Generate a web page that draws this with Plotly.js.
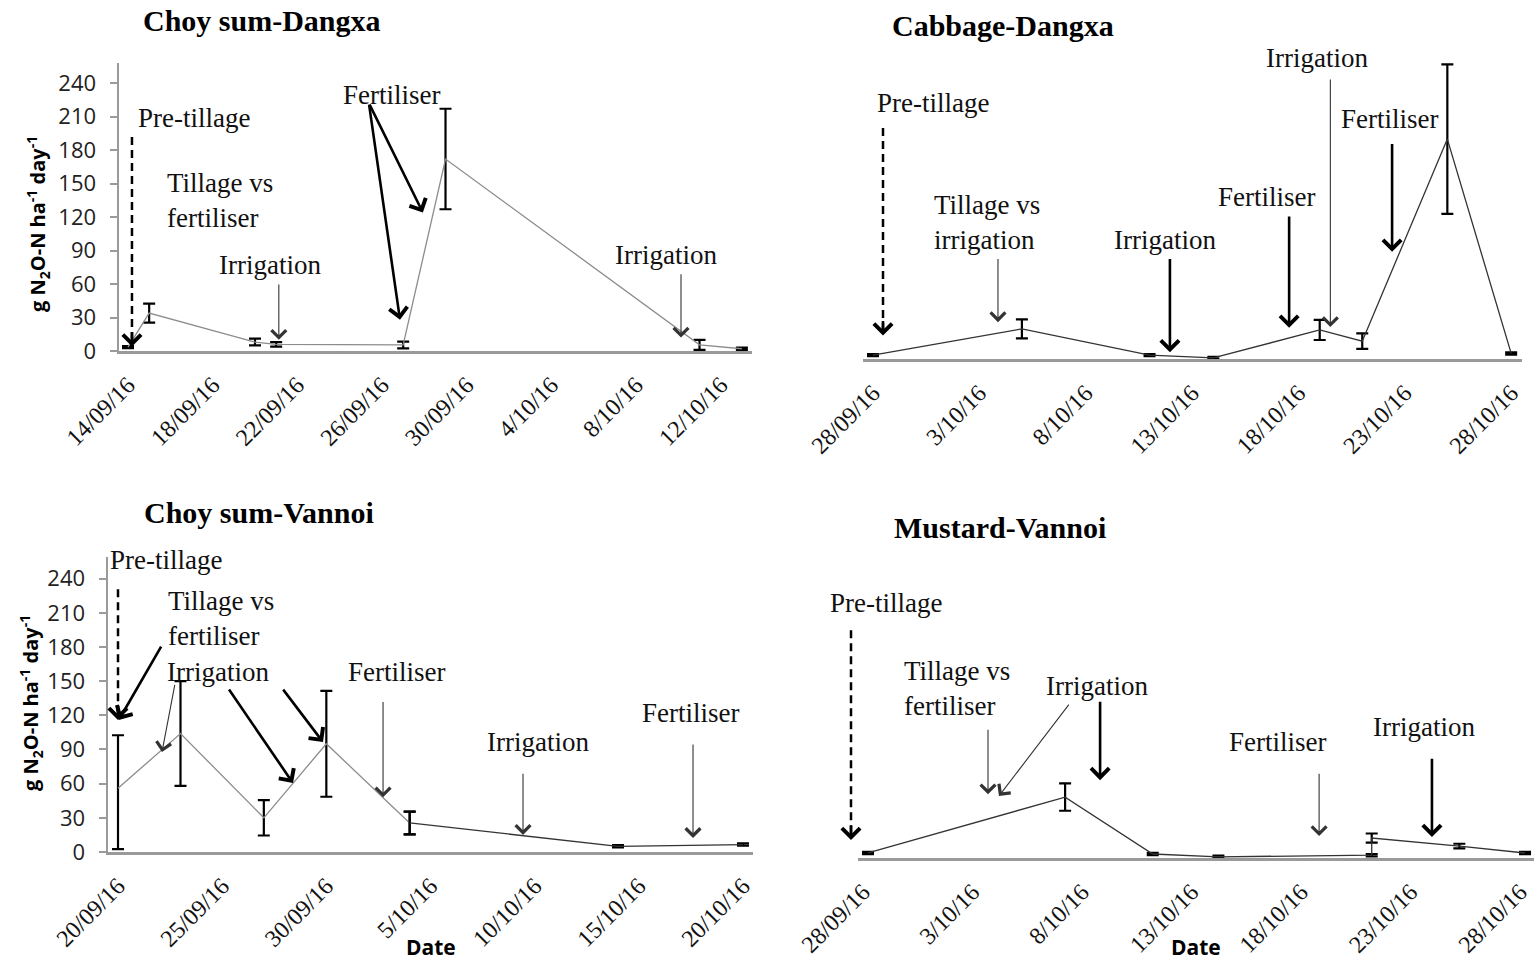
<!DOCTYPE html>
<html><head><meta charset="utf-8">
<script src="https://cdn.plot.ly/plotly-3.0.1.min.js"></script>
<style>html,body{margin:0;padding:0;background:#fff}#chart{width:1534px;height:961px}</style>
</head><body><div id="chart"></div>
<script>
// ---------- DATA ----------
// Choy sum - Dangxa
const csdDates = ['2016-09-14','2016-09-15','2016-09-20','2016-09-21','2016-09-27','2016-09-29','2016-10-11','2016-10-13'];
const csdFlux  = [3.5, 34, 8, 6, 5.4, 172, 5.5, 2];
const csdErr   = [1, 8.5, 3, 2, 3, 45, 4.5, 1];
const csdTickVals = ['2016-09-14','2016-09-18','2016-09-22','2016-09-26','2016-09-30','2016-10-04','2016-10-08','2016-10-12'];
const csdTickText = ['14/09/16','18/09/16','22/09/16','26/09/16','30/09/16','4/10/16','8/10/16','12/10/16'];

// Cabbage - Dangxa
const cbdDates = ['2016-09-28','2016-10-05','2016-10-11','2016-10-14','2016-10-19','2016-10-21','2016-10-25','2016-10-28'];
const cbdFlux  = [3.5, 27, 3.5, 1, 26, 16, 197, 5];
const cbdErr   = [1, 8.5, 1, 1, 9, 7, 67, 1];
const cbdTickVals = ['2016-09-28','2016-10-03','2016-10-08','2016-10-13','2016-10-18','2016-10-23','2016-10-28'];
const cbdTickText = ['28/09/16','3/10/16','8/10/16','13/10/16','18/10/16','23/10/16','28/10/16'];

// Choy sum - Vannoi
const csvDates = ['2016-09-20','2016-09-23','2016-09-27','2016-09-30','2016-10-04','2016-10-14','2016-10-20'];
const csvFlux  = [56, 104, 30, 95, 25.5, 5, 6.5];
const csvErrPlus  = [46.5, 46, 15.5, 46.5, 10, 1, 1];
const csvErrMinus = [53.5, 46, 15.5, 46.5, 10, 1, 1];
const csvTickVals = ['2016-09-20','2016-09-25','2016-09-30','2016-10-05','2016-10-10','2016-10-15','2016-10-20'];
const csvTickText = ['20/09/16','25/09/16','30/09/16','5/10/16','10/10/16','15/10/16','20/10/16'];

// Mustard - Vannoi
const mvDates = ['2016-09-28','2016-10-07','2016-10-11','2016-10-14','2016-10-21','2016-10-21','2016-10-25','2016-10-28'];
const mvFlux  = [4.4, 53.5, 3.5, 1, 2.5, 17.5, 10.5, 4.4];
const mvErr   = [1, 12, 1, 1, 1, 4, 2, 1];
const mvTickVals = cbdTickVals;
const mvTickText = cbdTickText;

const yTickVals = [0,30,60,90,120,150,180,210,240];

// ---------- STYLE ----------
const SERIF = 'Liberation Serif, Times New Roman, serif';
const SANS = 'Open Sans, Liberation Sans, sans-serif';
const GRAY_LINE = '#8c8c8c';
const DARK_LINE = '#333333';
const AXIS_COL = '#9a9a9a';

function errBar(plus, minus) {
  return {type:'data', symmetric: !minus, array: plus, arrayminus: minus, color:'#000', thickness:2.2, width:6, visible:true};
}
function series(x, y, xa, ya, color, plus, minus) {
  return {type:'scatter', mode:'lines', x:x, y:y, xaxis:xa, yaxis:ya,
          line:{color:color, width:1.3}, error_y: errBar(plus, minus),
          hoverinfo:'x+y', showlegend:false, cliponaxis:false};
}

const split = 4; // Choy sum-Vannoi line changes colour after the 5th sampling
const traces = [
  series(csdDates, csdFlux, 'x', 'y', GRAY_LINE, csdErr),
  series(cbdDates, cbdFlux, 'x2', 'y2', DARK_LINE, cbdErr),
  series(csvDates.slice(0, split+1), csvFlux.slice(0, split+1), 'x3', 'y3', GRAY_LINE, csvErrPlus.slice(0, split+1), csvErrMinus.slice(0, split+1)),
  series(csvDates.slice(split), csvFlux.slice(split), 'x3', 'y3', DARK_LINE, csvErrPlus.slice(split), csvErrMinus.slice(split)),
  series(mvDates, mvFlux, 'x4', 'y4', DARK_LINE, mvErr)
];

function xAxis(domain, range, tickvals, ticktext, anchor, shift) {
  return {type:'date', domain:domain, range:range, anchor:anchor,
          tickvals:tickvals, ticktext:ticktext, tickangle:-45,
          tickfont:{family:SERIF, size:24, color:'#111'},
          showline:true, linecolor:AXIS_COL, linewidth:2.5, ticklabeloverflow:'allow',
          ticklabelshift: shift || 0,
          showgrid:false, zeroline:false, ticks:'', ticklabelstandoff:8, fixedrange:true};
}
function yAxis(domain, range, anchor, visible) {
  const a = {domain:domain, range:range, anchor:anchor, showgrid:false, zeroline:false, fixedrange:true};
  if (visible) {
    Object.assign(a, {showline:true, linecolor:AXIS_COL, linewidth:2.5, ticks:'outside', ticklen:7,
      tickwidth:2, tickcolor:AXIS_COL, tickvals:yTickVals, ticktext:yTickVals.map(String),
      tickfont:{family:SANS, size:22, color:'#222'}, ticklabelstandoff:9});
  } else {
    Object.assign(a, {visible:false});
  }
  return a;
}

// ---------- ANNOTATIONS (event arrows in data coordinates) ----------
const ann = [];
const shapes = [];
function label(xa, ya, x, y, text) {
  ann.push({xref:xa, yref:ya, x:x, y:y, text:text, showarrow:false, align:'left',
            font:{family:SERIF, size:27, color:'#111'}});
}
function arrow(xa, ya, tailX, tailY, headX, headY, thick) {
  ann.push({xref:xa, yref:ya, axref:xa, ayref:ya, x:headX, y:headY, ax:tailX, ay:tailY,
            text:'', showarrow:true, arrowhead:4, standoff:0, startstandoff:0,
            arrowsize: thick ? 1.35 : 2.6, arrowwidth: thick ? 2.6 : 1.1,
            arrowcolor: thick ? '#000' : '#333'});
}
function dashed(xa, ya, x, tailY, headY, xIsPaper) {
  shapes.push({type:'line', xref: xIsPaper ? 'paper' : xa, yref:ya, x0:x, x1:x, y0:tailY, y1:headY + 3,
               line:{color:'#000', width:2.5, dash:'8px,5px'}, layer:'above'});
  ann.push({xref: xIsPaper ? 'paper' : xa, yref:ya, x:x, y:headY, ax:0, ay:-16, text:'', showarrow:true,
            arrowhead:4, arrowsize:1.35, arrowwidth:2.6, arrowcolor:'#000', standoff:0});
}

// Panel 1: Choy sum-Dangxa
label('x','y','2016-09-17 03:00',208.6,'Pre-tillage');
dashed('x','y','2016-09-14 04:30',191.6,4);
label('x','y','2016-09-18 08:24',135,'Tillage vs<br>fertiliser');
label('x','y','2016-09-20 17:00',77,'Irrigation');
arrow('x','y','2016-09-21 03:00',61,'2016-09-21 03:00',10,false);
label('x','y','2016-09-26 11:15',229,'Fertiliser');
arrow('x','y','2016-09-25 09:07',222,'2016-09-26 20:24',28,true);
arrow('x','y','2016-09-25 09:07',222,'2016-09-27 22:19',124,true);
label('x','y','2016-10-09 09:50',86,'Irrigation');
arrow('x','y','2016-10-10 03:00',70,'2016-10-10 03:00',12,false);

// Panel 2: Cabbage-Dangxa
label('x2','y2','2016-09-30 19:40',229,'Pre-tillage');
dashed('x2','y2','2016-09-28 11:17',207,21);
label('x2','y2','2016-10-03 08:40',122,'Tillage vs<br>irrigation');
arrow('x2','y2','2016-10-03 21:00',91,'2016-10-03 21:00',33,false);
label('x2','y2','2016-10-11 17:30',107,'Irrigation');
arrow('x2','y2','2016-10-11 23:00',91,'2016-10-11 23:00',6,true);
label('x2','y2','2016-10-16 12:30',145,'Fertiliser');
arrow('x2','y2','2016-10-17 13:30',129,'2016-10-17 13:30',28,true);
label('x2','y2','2016-10-18 21:00',269.5,'Irrigation');
arrow('x2','y2','2016-10-19 12:00',251.6,'2016-10-19 12:00',28.6,false);
label('x2','y2','2016-10-22 06:15',215,'Fertiliser');
arrow('x2','y2','2016-10-22 09:40',194,'2016-10-22 09:40',96,true);

// Panel 3: Choy sum-Vannoi
label('x3','y3','2016-09-22 07:20',256,'Pre-tillage');
dashed('x3','y3','2016-09-20 00:00',230.7,115.8);
label('x3','y3','2016-09-24 22:35',205,'Tillage vs<br>fertiliser');
arrow('x3','y3','2016-09-22 02:40',181.6,'2016-09-20 01:00',116,true);
label('x3','y3','2016-09-24 19:12',158,'Irrigation');
arrow('x3','y3','2016-09-22 17:45',148,'2016-09-22 02:40',87.7,false);
arrow('x3','y3','2016-09-25 06:43',143.9,'2016-09-28 09:36',60.5,true);
arrow('x3','y3','2016-09-27 21:00',143.9,'2016-09-29 20:10',96.5,true);
label('x3','y3','2016-10-03 08:24',158,'Fertiliser');
arrow('x3','y3','2016-10-02 17:20',133,'2016-10-02 17:20',48,false);
label('x3','y3','2016-10-10 03:50',97,'Irrigation');
arrow('x3','y3','2016-10-09 10:35',70,'2016-10-09 10:35',15,false);
label('x3','y3','2016-10-17 12:00',122,'Fertiliser');
arrow('x3','y3','2016-10-17 14:25',95.6,'2016-10-17 14:25',12.3,false);

// Panel 4: Mustard-Vannoi
label('x4','y4','2016-09-28 19:40',223.7,'Pre-tillage');
dashed('x4','y4',851/1534,200,15.8,true);
label('x4','y4','2016-10-02 01:30',149,'Tillage vs<br>fertiliser');
arrow('x4','y4','2016-10-03 11:30',114,'2016-10-03 11:30',56,false);
label('x4','y4','2016-10-08 11:00',151,'Irrigation');
arrow('x4','y4','2016-10-07 05:20',136,'2016-10-03 23:30',54.4,false);
arrow('x4','y4','2016-10-08 14:20',138.6,'2016-10-08 14:20',68.4,true);
label('x4','y4','2016-10-16 16:20',101.8,'Fertiliser');
arrow('x4','y4','2016-10-18 14:20',75.4,'2016-10-18 14:20',19.3,false);
label('x4','y4','2016-10-23 09:35',115,'Irrigation');
arrow('x4','y4','2016-10-23 18:00',88.6,'2016-10-23 18:00',18.4,true);

// Panel titles, axis titles
function paperText(x, y, text, font, extra) {
  ann.push(Object.assign({xref:'paper', yref:'paper', x:x, y:y, text:text, showarrow:false,
    xanchor:'center', yanchor:'middle', font:font}, extra || {}));
}
const titleFont = {family:SERIF, size:30, color:'#000'};
paperText(262/1534, 1-20/961, '<b>Choy sum-Dangxa</b>', titleFont);
paperText(1003/1534, 1-25/961, '<b>Cabbage-Dangxa</b>', titleFont);
paperText(259/1534, 1-512/961, '<b>Choy sum-Vannoi</b>', titleFont);
paperText(1000/1534, 1-527/961, '<b>Mustard-Vannoi</b>', titleFont);
const yTitle = '<b>g N<sub>2</sub>O-N ha<sup>-1</sup> day<sup>-1</sup></b>';
const yTitleFont = {family:SANS, size:20, color:'#000'};
paperText(38/1534, 1-224/961, yTitle, yTitleFont, {textangle:-90});
paperText(31/1534, 1-703/961, yTitle, yTitleFont, {textangle:-90});
const dateFont = {family:SANS, size:21, color:'#000'};
paperText(431/1534, 1-947/961, '<b>Date</b>', dateFont);
paperText(1196/1534, 1-947/961, '<b>Date</b>', dateFont);

const layout = {
  width:1534, height:961, margin:{l:0,r:0,t:0,b:0}, paper_bgcolor:'#fff', plot_bgcolor:'rgba(0,0,0,0)',
  showlegend:false,
  xaxis:  xAxis([119/1534, 752/1534], ['2016-09-13 13:48','2016-10-13 11:30'], csdTickVals, csdTickText, 'y'),
  yaxis:  yAxis([1-351/961, 1-63/961], [0,258], 'x', true),
  xaxis2: xAxis([863/1534, 1522/1534], ['2016-09-27 12:43','2016-10-28 12:14'], cbdTickVals, cbdTickText, 'y2'),
  yaxis2: yAxis([1-359/961, 1-52/961], [0,275], 'x2', false),
  xaxis3: xAxis([108/1534, 753/1534], ['2016-09-19 12:29','2016-10-20 11:31'], csvTickVals, csvTickText, 'y3'),
  yaxis3: yAxis([1-852/961, 1-557/961], [0,259], 'x3', true),
  xaxis4: xAxis([858/1534, 1], ['2016-09-27 13:02','2016-10-28 09:50'], mvTickVals, mvTickText, 'y4', -5),
  yaxis4: yAxis([1-858/961, 1-562/961], [0,260], 'x4', false),
  annotations: ann,
  shapes: shapes
};
Plotly.newPlot('chart', traces, layout, {displayModeBar:false, staticPlot:true});
</script></body></html>
